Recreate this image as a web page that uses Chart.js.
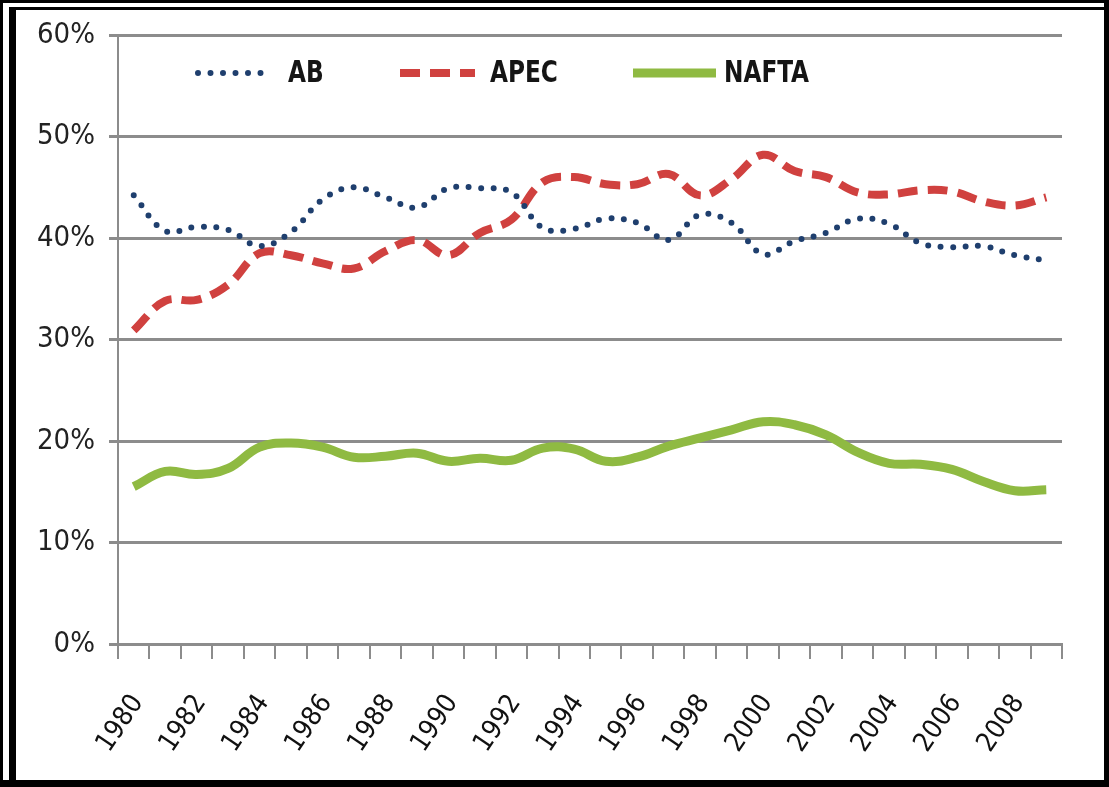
<!DOCTYPE html>
<html lang="en">
<head>
    <meta charset="UTF-8">
    <title>AB / APEC / NAFTA</title>
    <script src="https://cdn.jsdelivr.net/npm/chart.js"></script>
    <style>
        body { margin: 0; background: #fff; }
        #wrap { position: relative; width: 1109px; height: 787px; }
        #frameOuter { position: absolute; left: 0; top: 0; width: 1109px; height: 787px; box-sizing: border-box;
            border-style: solid; border-color: #000; border-width: 3px 5px 7px 3px; pointer-events: none; }
        #frameInner { position: absolute; left: 9px; top: 7px; width: 1095px; height: 773px; box-sizing: border-box;
            border-style: solid; border-color: #000; border-width: 3px 0 0 7px; pointer-events: none; }
    </style>
</head>
<body>
    <div id="wrap">
        <canvas id="tradeChart" width="1109" height="787"></canvas>
        <div id="frameOuter"></div>
        <div id="frameInner"></div>
    </div>

    <script>
        // data (share, %)
        const years = ['1980','1981','1982','1983','1984','1985','1986','1987','1988','1989',
                       '1990','1991','1992','1993','1994','1995','1996','1997','1998','1999',
                       '2000','2001','2002','2003','2004','2005','2006','2007','2008','2009'];
        const abValues = [44.2, 40.7, 41.1, 40.8, 39.2, 40.6, 43.8, 45.0, 44.0, 43.0,
                          44.9, 44.9, 44.5, 41.0, 40.9, 41.9, 41.5, 39.8, 42.3, 41.5,
                          38.4, 39.7, 40.5, 41.9, 41.4, 39.5, 39.1, 39.2, 38.3, 37.8];
        const apecValues = [30.9, 33.8, 33.9, 35.4, 38.5, 38.3, 37.5, 37.0, 38.7, 39.8,
                            38.3, 40.5, 41.8, 45.5, 46.0, 45.3, 45.3, 46.3, 44.2, 45.8,
                            48.2, 46.6, 46.0, 44.5, 44.3, 44.7, 44.6, 43.6, 43.2, 44.0];
        const naftaValues = [15.5, 17.0, 16.7, 17.3, 19.4, 19.8, 19.4, 18.4, 18.5, 18.8,
                             18.0, 18.3, 18.1, 19.3, 19.2, 18.0, 18.4, 19.5, 20.3, 21.1,
                             21.9, 21.6, 20.6, 18.9, 17.8, 17.7, 17.2, 16.0, 15.1, 15.2];
        const seriesNames = ['AB', 'APEC', 'NAFTA'];

        const fontFamily = "'Liberation Sans Narrow', 'DejaVu Sans Condensed', 'DejaVu Sans', sans-serif";
        const gridColor = '#8c8c8c';

        // legend sits inside the plot area, as in the original
        const inlineLegend = {
            id: 'inlineLegend',
            afterDatasetsDraw(chart) {
                const ctx = chart.ctx;
                const spots = [[198, 272, 288], [400, 475, 490], [633, 716, 724]];
                const y = 73;
                ctx.save();
                chart.data.datasets.forEach((ds, i) => {
                    const [x0, x1, tx] = spots[i];
                    ctx.beginPath();
                    ctx.strokeStyle = ds.borderColor;
                    ctx.lineWidth = ds.borderWidth;
                    ctx.lineCap = ds.borderCapStyle || 'butt';
                    ctx.setLineDash(ds.borderDash || []);
                    ctx.moveTo(x0, y);
                    ctx.lineTo(x1, y);
                    ctx.stroke();
                    ctx.setLineDash([]);

                    ctx.save();
                    ctx.translate(tx, y + 1);
                    ctx.scale(0.86, 1);
                    ctx.fillStyle = '#151515';
                    ctx.font = 'bold 30px ' + fontFamily;
                    ctx.textBaseline = 'middle';
                    ctx.fillText(ds.label, 0, 0);
                    ctx.restore();
                });
                ctx.restore();
            }
        };

        function plotChart() {
            const ctx = document.getElementById('tradeChart').getContext('2d');
            new Chart(ctx, {
                type: 'line',
                data: {
                    labels: years,
                    datasets: [{
                        label: seriesNames[0],
                        data: abValues,
                        borderColor: '#1f3f6e',
                        borderWidth: 6,
                        borderDash: [0, 12.5],
                        borderCapStyle: 'round',
                        pointRadius: 0,
                        tension: 0.4,
                        fill: false
                    }, {
                        label: seriesNames[1],
                        data: apecValues,
                        borderColor: '#d0413f',
                        borderWidth: 8,
                        borderDash: [20, 10],
                        borderCapStyle: 'butt',
                        pointRadius: 0,
                        tension: 0.4,
                        fill: false
                    }, {
                        label: seriesNames[2],
                        data: naftaValues,
                        borderColor: '#8fba42',
                        borderWidth: 9,
                        borderCapStyle: 'butt',
                        pointRadius: 0,
                        tension: 0.4,
                        fill: false
                    }]
                },
                options: {
                    responsive: false,
                    animation: false,
                    layout: { padding: { left: 18, right: 47, top: 35, bottom: 23 } },
                    plugins: {
                        legend: { display: false },
                        tooltip: { enabled: false }
                    },
                    scales: {
                        x: {
                            offset: true,
                            afterFit: scale => { scale.height = 120; },
                            grid: {
                                offset: true,
                                drawOnChartArea: false,
                                drawTicks: true,
                                tickLength: 15,
                                color: gridColor,
                                lineWidth: 2
                            },
                            border: { display: true, color: gridColor, width: 3 },
                            ticks: {
                                autoSkip: false,
                                minRotation: 56,
                                maxRotation: 56,
                                padding: 30,
                                labelOffset: 4,
                                color: '#111',
                                font: { family: fontFamily, size: 27 },
                                callback: (val, idx) => idx % 2 === 0 ? years[idx] : ''
                            }
                        },
                        y: {
                            min: 0,
                            max: 60,
                            afterFit: scale => { scale.width = 100; },
                            grid: {
                                color: gridColor,
                                lineWidth: 3,
                                tickLength: 9
                            },
                            border: { display: true, color: gridColor, width: 2 },
                            ticks: {
                                stepSize: 10,
                                padding: 14,
                                color: '#222',
                                font: { family: fontFamily, size: 29 },
                                callback: v => v + '%'
                            }
                        }
                    }
                },
                plugins: [inlineLegend]
            });
        }

        document.addEventListener('DOMContentLoaded', () => {
            plotChart();
        });
    </script>
</body>
</html>
